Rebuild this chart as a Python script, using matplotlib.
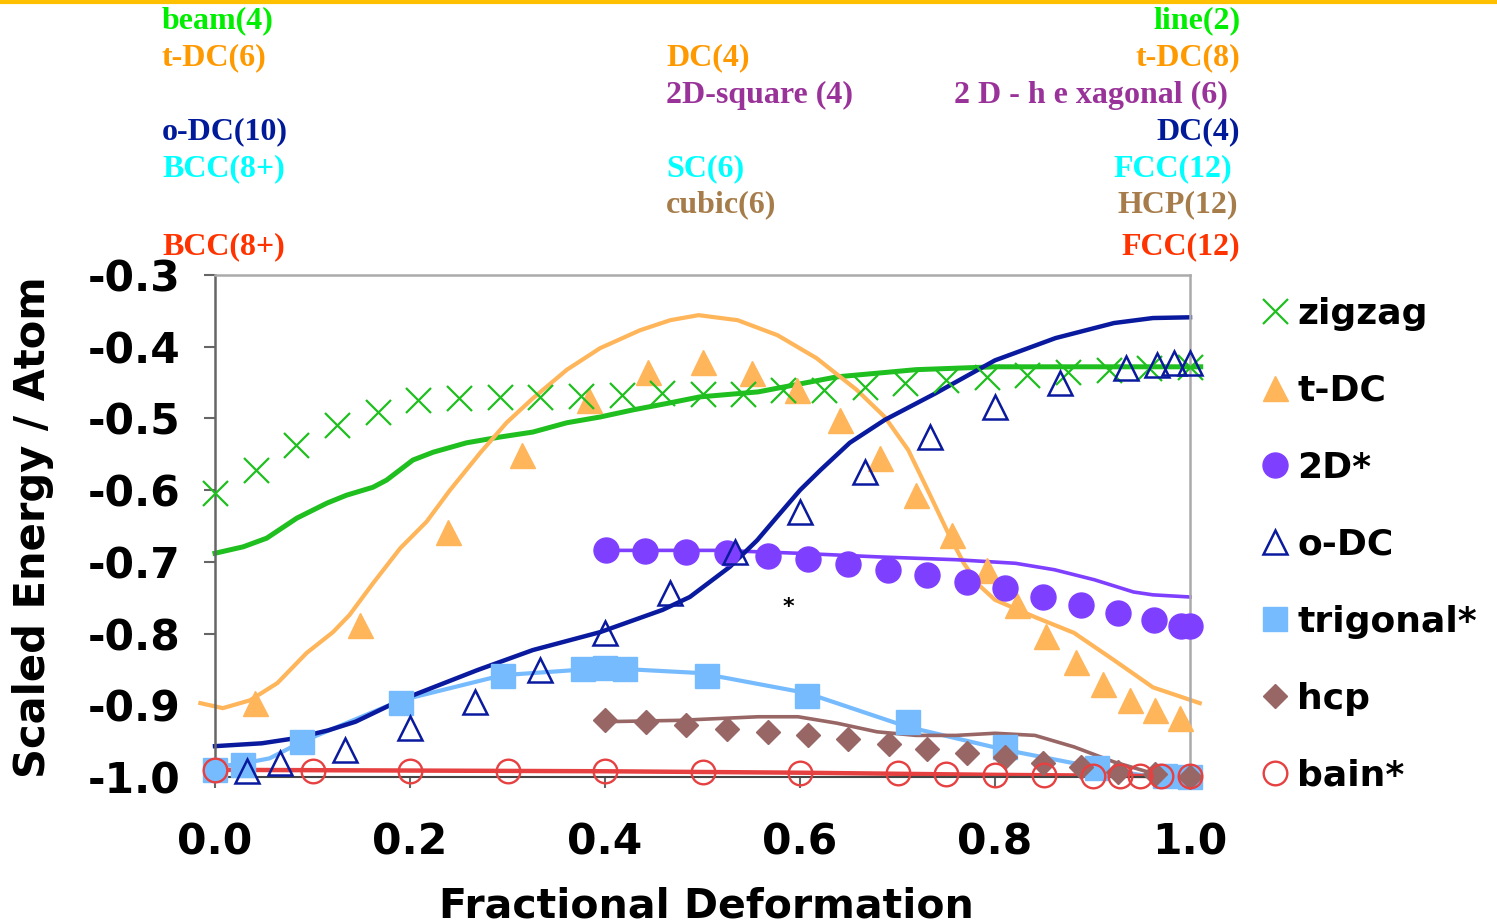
import numpy as np
import matplotlib
matplotlib.use("Agg")
import matplotlib.pyplot as plt
from matplotlib.lines import Line2D

plt.rcParams['axes.unicode_minus'] = False
plt.rcParams['font.family'] = 'DejaVu Sans'

# ---- data ----
# zigzag (green x markers + green curve)
zig_x = [0.0, 0.042, 0.083, 0.125, 0.167, 0.208, 0.25, 0.292, 0.333, 0.375, 0.417, 0.458,
         0.5, 0.542, 0.583, 0.625, 0.667, 0.708, 0.75, 0.792, 0.833, 0.875, 0.917, 0.958, 1.0]
zig_y = [-0.604, -0.572, -0.537, -0.509, -0.491, -0.474, -0.472, -0.470, -0.470, -0.469, -0.467, -0.465,
         -0.466, -0.466, -0.460, -0.460, -0.456, -0.451, -0.446, -0.442, -0.439, -0.435, -0.432, -0.430, -0.428]
zig_line_x = [0.0, 0.029, 0.053, 0.084, 0.115, 0.135, 0.162, 0.176, 0.203, 0.224, 0.258, 0.292, 0.326,
              0.361, 0.395, 0.429, 0.464, 0.497, 0.557, 0.638, 0.719, 0.8, 0.881, 1.0, 1.011]
zig_line_y = [-0.688, -0.679, -0.667, -0.639, -0.618, -0.607, -0.596, -0.586, -0.558, -0.547, -0.534, -0.526, -0.519,
              -0.506, -0.498, -0.488, -0.479, -0.470, -0.463, -0.442, -0.432, -0.428, -0.428, -0.428, -0.428]

# t-DC (orange triangles + orange curve)
tdc_x = [0.041, 0.149, 0.239, 0.315, 0.384, 0.444, 0.5, 0.551, 0.597, 0.641, 0.682,
         0.719, 0.756, 0.792, 0.823, 0.852, 0.883, 0.911, 0.938, 0.964, 0.99]
tdc_y = [-0.897, -0.788, -0.658, -0.551, -0.474, -0.435, -0.421, -0.437, -0.460, -0.502, -0.555,
         -0.607, -0.663, -0.711, -0.760, -0.803, -0.840, -0.870, -0.893, -0.907, -0.918]
tdc_line_x = [-0.015, 0.008, 0.036, 0.064, 0.094, 0.121, 0.138, 0.162, 0.19, 0.217, 0.241, 0.272, 0.299,
              0.326, 0.361, 0.395, 0.436, 0.467, 0.496, 0.536, 0.577, 0.617, 0.658, 0.687, 0.711, 0.731,
              0.752, 0.768, 0.784, 0.8, 0.841, 0.881, 0.922, 0.962, 1.01]
tdc_line_y = [-0.897, -0.904, -0.893, -0.869, -0.827, -0.798, -0.774, -0.730, -0.681, -0.644, -0.600, -0.548, -0.506,
              -0.472, -0.432, -0.402, -0.377, -0.363, -0.356, -0.363, -0.384, -0.416, -0.460, -0.498, -0.544, -0.600,
              -0.660, -0.702, -0.733, -0.753, -0.777, -0.799, -0.837, -0.875, -0.897]

# 2D* (purple circles + purple curve)
d2_x = [0.401, 0.441, 0.483, 0.525, 0.567, 0.608, 0.649, 0.69, 0.73, 0.771, 0.81, 0.849,
        0.888, 0.926, 0.963, 0.991, 1.0]
d2_y = [-0.684, -0.685, -0.686, -0.688, -0.692, -0.696, -0.703, -0.711, -0.718, -0.728, -0.736, -0.749,
        -0.760, -0.771, -0.781, -0.790, -0.790]
d2_line_x = [0.4, 0.517, 0.598, 0.679, 0.76, 0.821, 0.861, 0.902, 0.942, 0.962, 1.0]
d2_line_y = [-0.684, -0.684, -0.688, -0.693, -0.697, -0.702, -0.711, -0.725, -0.742, -0.746, -0.749]

# o-DC (navy open triangles + navy curve)
odc_x = [0.033, 0.067, 0.133, 0.2, 0.267, 0.333, 0.4, 0.467, 0.533, 0.6, 0.667, 0.733,
         0.8, 0.867, 0.934, 0.966, 0.984, 1.0]
odc_y = [-0.992, -0.981, -0.963, -0.932, -0.896, -0.851, -0.799, -0.744, -0.686, -0.631, -0.575, -0.526,
         -0.484, -0.451, -0.430, -0.426, -0.423, -0.423]
odc_line_x = [0.0, 0.048, 0.082, 0.116, 0.144, 0.19, 0.269, 0.326, 0.395, 0.459, 0.487, 0.528, 0.556,
              0.576, 0.6, 0.621, 0.651, 0.687, 0.739, 0.8, 0.862, 0.922, 0.962, 1.0]
odc_line_y = [-0.957, -0.953, -0.946, -0.935, -0.923, -0.893, -0.851, -0.823, -0.798, -0.767, -0.749, -0.707, -0.670,
              -0.638, -0.600, -0.572, -0.534, -0.502, -0.465, -0.419, -0.388, -0.367, -0.360, -0.359]

# trigonal* (light blue squares + curve)
tri_x = [0.0, 0.029, 0.089, 0.191, 0.295, 0.377, 0.4, 0.421, 0.505, 0.607, 0.711, 0.81, 0.905, 0.974, 1.0]
tri_y = [-0.990, -0.983, -0.951, -0.897, -0.859, -0.850, -0.848, -0.850, -0.859, -0.887, -0.923, -0.958,
         -0.988, -0.999, -1.0]
tri_line_x = [0.0, 0.029, 0.056, 0.089, 0.138, 0.191, 0.295, 0.4, 0.497, 0.607, 0.71, 0.81, 0.908, 0.962, 1.0]
tri_line_y = [-0.986, -0.981, -0.974, -0.951, -0.923, -0.893, -0.858, -0.848, -0.855, -0.883, -0.930, -0.962,
              -0.988, -1.0, -1.001]

# hcp (brown diamonds + curve)
hcp_x = [0.4, 0.442, 0.483, 0.525, 0.567, 0.608, 0.649, 0.691, 0.73, 0.771, 0.81, 0.849,
         0.888, 0.926, 0.964, 1.0]
hcp_y = [-0.921, -0.923, -0.928, -0.933, -0.937, -0.942, -0.947, -0.954, -0.961, -0.967, -0.972, -0.981,
         -0.986, -0.993, -0.996, -1.0]
hcp_line_x = [0.395, 0.476, 0.557, 0.598, 0.638, 0.679, 0.719, 0.76, 0.8, 0.841, 0.881, 0.922, 0.962, 1.0]
hcp_line_y = [-0.923, -0.921, -0.916, -0.916, -0.925, -0.937, -0.942, -0.942, -0.939, -0.942, -0.958, -0.979,
              -0.995, -1.0]

# bain* (red open circles + red curve)
bain_x = [0.0, 0.1, 0.2, 0.3, 0.4, 0.5, 0.6, 0.7, 0.75, 0.8, 0.85, 0.9, 0.928, 0.949, 0.97, 1.0]
bain_y = [-0.990, -0.991, -0.991, -0.992, -0.992, -0.993, -0.994, -0.995, -0.996, -0.997, -0.997, -0.998,
          -0.998, -0.998, -0.999, -0.999]
bain_line_x = [0.0, 0.2, 0.4, 0.6, 0.8, 1.0]
bain_line_y = [-0.990, -0.991, -0.992, -0.994, -0.997, -0.999]

yticks = [-0.3, -0.4, -0.5, -0.6, -0.7, -0.8, -0.9, -1.0]
xticks = [0.0, 0.2, 0.4, 0.6, 0.8, 1.0]

# structure labels above the plot: (text, color, row y in px[, right edge px])
left_labels = [("beam(4)", "#00ee00", 21), ("t-DC(6)", "#ff9900", 58), ("o-DC(10)", "#001a99", 132),
               ("BCC(8+)", "#00ffff", 169), ("BCC(8+)", "#ff3300", 247)]
mid_labels = [("DC(4)", "#ff9900", 58), ("2D-square (4)", "#993399", 95), ("SC(6)", "#00ffff", 169),
              ("cubic(6)", "#a67c4a", 205)]
right_labels = [("line(2)", "#00ee00", 21, 1240), ("t-DC(8)", "#ff9900", 58, 1240),
                ("2 D - h e xagonal (6)", "#993399", 95, 1228), ("DC(4)", "#001a99", 132, 1240),
                ("FCC(12)", "#00ffff", 169, 1232), ("HCP(12)", "#a67c4a", 205, 1238),
                ("FCC(12)", "#ff3300", 247, 1240)]

# ---- colours ----
c_green = "#1fbf1f"
c_orange = "#ffb55a"
c_purple = "#7f3fff"
c_navy = "#0a1a9e"
c_lblue = "#77bbff"
c_brown = "#996666"
c_red = "#e64040"

W, H = 1497, 924
fig = plt.figure(figsize=(W / 100, H / 100), dpi=100)
ax = fig.add_axes([215 / W, 1 - 777 / H, 975 / W, 502 / H])

# curves
ax.plot(zig_line_x, zig_line_y, color=c_green, lw=3.6, zorder=2, clip_on=False)
ax.plot(tdc_line_x, tdc_line_y, color=c_orange, lw=3.0, zorder=2, clip_on=False)
ax.plot(d2_line_x, d2_line_y, color=c_purple, lw=2.6, zorder=2, clip_on=False)
ax.plot(odc_line_x, odc_line_y, color=c_navy, lw=3.2, zorder=2.5, clip_on=False)
ax.plot(tri_line_x, tri_line_y, color=c_lblue, lw=3.0, zorder=2, clip_on=False)
ax.plot(hcp_line_x, hcp_line_y, color=c_brown, lw=2.6, zorder=2, clip_on=False)
ax.plot(bain_line_x, bain_line_y, color=c_red, lw=3.2, zorder=2, clip_on=False)

# markers
ax.plot(tdc_x, tdc_y, ls='none', marker='^', ms=18, color=c_orange, mec=c_orange, label='t-DC', zorder=3, clip_on=False)
ax.plot(zig_x, zig_y, ls='none', marker='x', ms=18, mew=1.6, color=c_green, label='zigzag', zorder=3.1, clip_on=False)
ax.plot(d2_x, d2_y, ls='none', marker='o', ms=18, color=c_purple, mec=c_purple, label='2D*', zorder=3, clip_on=False)
ax.plot(odc_x, odc_y, ls='none', marker='^', ms=17, mfc='none', mec=c_navy, mew=1.8, label='o-DC', zorder=3.2, clip_on=False)
ax.plot(tri_x, tri_y, ls='none', marker='s', ms=17, color=c_lblue, mec=c_lblue, label='trigonal*', zorder=3, clip_on=False)
ax.plot(hcp_x, hcp_y, ls='none', marker='D', ms=12.5, color=c_brown, mec=c_brown, label='hcp', zorder=3.1, clip_on=False)
ax.plot(bain_x, bain_y, ls='none', marker='o', ms=17, mfc='none', mec=c_red, mew=1.7, label='bain*', zorder=3.3, clip_on=False)

ax.text(0.588, -0.763, "*", fontsize=16, fontweight='bold', ha='center', va='center', color='black')

ax.set_xlim(0.0, 1.0)
ax.set_ylim(-1.0, -0.3)
ax.set_xticks(xticks)
ax.set_xticklabels(["%.1f" % v for v in xticks], fontsize=30.5, fontweight='bold')
ax.set_yticks(yticks)
ax.set_yticklabels(["%.1f" % v for v in yticks], fontsize=30.5, fontweight='bold')
ax.tick_params(axis='y', direction='out', length=8, width=1.5, color='#666666', pad=17)
ax.tick_params(axis='x', direction='out', length=8, width=1.5, color='#666666', pad=24)
for side in ['top', 'right']:
    ax.spines[side].set_color('#aaaaaa')
    ax.spines[side].set_linewidth(1.8)
ax.spines['left'].set_color('#666666')
ax.spines['left'].set_linewidth(1.8)
ax.spines['bottom'].set_color('#444444')
ax.spines['bottom'].set_linewidth(1.5)

# axis titles placed in figure pixels
fig.text(706 / W, 1 - 906 / H, "Fractional Deformation", fontsize=29.5, fontweight='bold',
         ha='center', va='center')
fig.text(33 / W, 1 - 527 / H, "Scaled Energy / Atom", fontsize=30, fontweight='bold',
         ha='center', va='center', rotation=90)

handles, labels = ax.get_legend_handles_labels()
order = ['zigzag', 't-DC', '2D*', 'o-DC', 'trigonal*', 'hcp', 'bain*']
hmap = dict(zip(labels, handles))
leg = fig.legend([hmap[k] for k in order], order, loc='upper left',
                 bbox_to_anchor=(1257 / W, 1 - 297 / H), frameon=False,
                 prop={'size': 26, 'weight': 'bold'}, handlelength=1.0,
                 handletextpad=0.12, labelspacing=1.19, borderpad=0, borderaxespad=0)

# labels above plot (serif bold)
serif = ['Liberation Serif', 'DejaVu Serif']
for txt, col, y in left_labels:
    fig.text(162 / W, 1 - y / H, txt, color=col, fontsize=23, fontweight='bold',
             family=serif, ha='left', va='center')
for txt, col, y in mid_labels:
    fig.text(666 / W, 1 - y / H, txt, color=col, fontsize=23, fontweight='bold',
             family=serif, ha='left', va='center')
for txt, col, y, xr in right_labels:
    fig.text(xr / W, 1 - y / H, txt, color=col, fontsize=23, fontweight='bold',
             family=serif, ha='right', va='center')

# yellow strip at the top of the slide
fig.add_artist(Line2D([0, 1], [1 - 1.5 / H, 1 - 1.5 / H], transform=fig.transFigure,
                      color='#ffc000', lw=3))

fig.savefig("out.png", dpi=100)
